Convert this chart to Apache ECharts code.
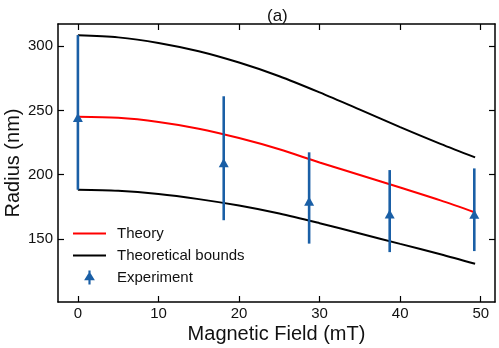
<!DOCTYPE html>
<html>
<head>
<meta charset="utf-8">
<script src="https://cdn.jsdelivr.net/npm/echarts@6/dist/echarts.min.js"></script>
<style>
  html, body { margin: 0; padding: 0; background: #fff; }
  #chart { width: 499px; height: 348px; }
</style>
</head>
<body>
<div id="chart"></div>
<script>
// field values (mT) where the theory curves are sampled
const fieldGrid = [0, 5, 10, 15, 20, 25, 30, 35, 40, 45, 49.3];
const theory = [245, 244.2, 241, 235.8, 228.5, 219.8, 209.5, 199.8, 190, 180, 170.6];
const upperBound = [308.4, 306.8, 302.5, 296, 287.2, 276.6, 264, 250.6, 237, 224, 213.5];
const lowerBound = [188.3, 187.5, 185, 181, 176, 169.8, 162.3, 154.3, 146.2, 138.2, 130.7];

// experiment points w error bars
const expField = [0, 18.1, 28.7, 38.7, 49.2];
const expRadius = [244.5, 209.3, 179.4, 169.5, 169.3];
const expLow = [188.3, 164.6, 146.4, 139.8, 140.6];
const expHigh = [308.6, 261, 217.4, 203.6, 204.9];

// tick labels
const xTicks = [0, 10, 20, 30, 40, 50];
const yTicks = [150, 200, 250, 300];

const BLUE = '#1a5fa6';
const FONT = 'Liberation Sans, Arial, sans-serif';
const LINE_ICON = 'path://M0,0L33,0L33,2L0,2Z';

const pairs = (xs, ys) => xs.map((x, i) => [x, ys[i]]);

// shared axis look: black frame, ticks pointing in
function frameAxis(extra) {
  return Object.assign({
    type: 'value',
    splitLine: { show: false },
    axisLine: { show: true, onZero: false, lineStyle: { color: '#000', width: 1.5 } },
    axisLabel: { show: false }
  }, extra);
}
function ticks(vals) {
  return { show: true, inside: true, length: 6, customValues: vals, lineStyle: { color: '#000', width: 1.2 } };
}

const xRange = { min: -2.47, max: 51.77 };
const yRange = { min: 101, max: 317.2 };

const option = {
  backgroundColor: '#fff',
  animation: false,
  title: {
    text: '(a)',
    left: 262,
    top: 3,
    textStyle: { fontFamily: FONT, fontSize: 17, fontWeight: 'normal', color: '#111' }
  },
  grid: { left: 58, top: 24, width: 437, height: 278, outerBoundsMode: 'none', containLabel: false },
  legend: {
    orient: 'vertical',
    left: 73,
    top: 226,
    padding: 0,
    itemWidth: 33,
    itemHeight: 14,
    itemGap: 7,
    textStyle: { fontFamily: FONT, fontSize: 15, color: '#111', lineHeight: 14, padding: [0, 0, 0, 6] },
    data: [
      { name: 'Theory', icon: LINE_ICON },
      { name: 'Theoretical bounds', icon: LINE_ICON },
      { name: 'Experiment', icon: 'path://M4,0L6,0L6,13L4,13Z M5,1L10,9L0,9Z' }
    ]
  },
  xAxis: [
    frameAxis(Object.assign({
      position: 'bottom',
      name: 'Magnetic Field (mT)',
      nameLocation: 'middle',
      nameMoveOverlap: false,
      nameGap: 22,
      nameTextStyle: { fontFamily: FONT, fontSize: 20, color: '#111' },
      axisTick: ticks(xTicks),
      axisLabel: { show: true, customValues: xTicks, margin: 4, fontFamily: FONT, fontSize: 15, color: '#111' }
    }, xRange)),
    frameAxis(Object.assign({ position: 'top', axisTick: ticks(xTicks) }, xRange))
  ],
  yAxis: [
    frameAxis(Object.assign({
      position: 'left',
      name: 'Radius (nm)',
      nameLocation: 'middle',
      nameMoveOverlap: false,
      nameGap: 35,
      nameTextStyle: { fontFamily: FONT, fontSize: 20, color: '#111' },
      axisTick: ticks(yTicks),
      axisLabel: { show: true, customValues: yTicks, margin: 5, fontFamily: FONT, fontSize: 15, color: '#111' }
    }, yRange)),
    frameAxis(Object.assign({ position: 'right', axisTick: ticks(yTicks) }, yRange))
  ],
  series: [
    {
      name: 'Theoretical bounds',
      type: 'line',
      smooth: 0.3,
      symbol: 'none',
      lineStyle: { color: '#000', width: 2 },
      itemStyle: { color: '#000' },
      data: pairs(fieldGrid, upperBound),
      z: 2
    },
    {
      name: 'Theoretical bounds',
      type: 'line',
      smooth: 0.3,
      symbol: 'none',
      lineStyle: { color: '#000', width: 2 },
      itemStyle: { color: '#000' },
      data: pairs(fieldGrid, lowerBound),
      z: 2
    },
    {
      name: 'Theory',
      type: 'line',
      smooth: 0.3,
      symbol: 'none',
      lineStyle: { color: '#ff0000', width: 2 },
      itemStyle: { color: '#ff0000' },
      data: pairs(fieldGrid, theory),
      z: 3
    },
    {
      // vertical error bars, no caps
      name: 'errbars',
      type: 'custom',
      z: 4,
      renderItem: function (params, api) {
        const lo = api.coord([api.value(0), api.value(1)]);
        const hi = api.coord([api.value(0), api.value(2)]);
        return {
          type: 'line',
          shape: { x1: lo[0], y1: lo[1], x2: hi[0], y2: hi[1] },
          style: { stroke: BLUE, lineWidth: 2.6 }
        };
      },
      data: expField.map((x, i) => [x, expLow[i], expHigh[i]])
    },
    {
      name: 'Experiment',
      type: 'scatter',
      symbol: 'triangle',
      symbolSize: [10, 9],
      itemStyle: { color: BLUE, opacity: 1 },
      data: pairs(expField, expRadius),
      z: 5
    }
  ]
};

var chart = echarts.init(document.getElementById('chart'));
chart.setOption(option);
</script>
</body>
</html>
